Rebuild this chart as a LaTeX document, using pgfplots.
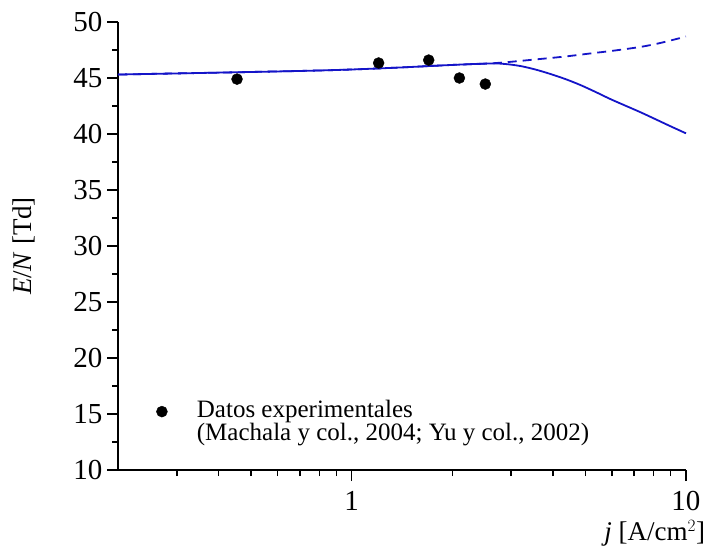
\documentclass[border=0pt]{standalone}
\usepackage{pgfplots}
\pgfplotsset{compat=1.18}
\usepackage{fontspec}
\setmainfont{Liberation Serif}
\definecolor{lineblue}{RGB}{20,20,200}
\begin{document}
\begin{tikzpicture}[x=1pt,y=1pt]
\useasboundingbox (-118,-80) rectangle (592,470);
\begin{axis}[
  at={(0,0)}, anchor=south west,
  scale only axis, width=568pt, height=448pt,
  xmode=log, xmin=0.2, xmax=10, ymin=10, ymax=50,
  axis x line*=bottom, axis y line*=left,
  axis line style={line width=1.6pt, -},
  tick style={line width=1.4pt, black},
  tick align=outside,
  major tick length=11pt, minor tick length=6pt,
  xtick={1,10}, xticklabels={1,10},
  minor xtick={0.3,0.4,0.5,0.6,0.7,0.8,0.9,2,3,4,5,6,7,8,9},
  ytick={10,15,...,50}, minor ytick={12.5,17.5,...,47.5},
  /pgf/number format/assume math mode=true,
  tick label style={font=\fontsize{29}{32}\selectfont},
  xticklabel style={yshift=-7pt},
  yticklabel style={xshift=-1pt},
  log ticks with fixed point,
  clip=false,
  xlabel={\textit{j} [A/cm$^2$]},
  every axis x label/.style={at={(axis description cs:0.945,-0.141)}, anchor=center, font=\fontsize{27}{30}\selectfont},
  ylabel={\textit{E}/\textit{N} [Td]},
  every axis y label/.style={at={(axis description cs:-0.165,0.5)}, anchor=center, rotate=90, font=\fontsize{27}{30}\selectfont},
  legend style={draw=none, fill=none, inner sep=0pt, outer sep=0pt,
    at={(axis description cs:0.065,0.156)}, anchor=north west,
    font=\fontsize{25}{27}\selectfont, row sep=0pt,
    nodes={inner sep=1pt, text height=16pt, text depth=5pt}},
  legend cell align=left,
  legend image code/.code={\path[draw=none,fill=none] (0pt,-1pt) (41pt,1pt); \draw[#1] plot coordinates {(7pt,0pt)};},
]
\addplot[only marks, mark=*, mark size=5.5pt, black] coordinates {
(0.454,44.9) (1.204,46.34) (1.70,46.6) (2.10,45.0) (2.51,44.46)
};
\addlegendentry{Datos experimentales}
\addlegendimage{empty legend}
\addlegendentry{(Machala y col., 2004; Yu y col., 2002)}
\addplot[lineblue, line width=1.8pt, dash pattern=on 9pt off 6pt, smooth] coordinates {
(0.2,45.31) (0.354,45.45) (0.704,45.63) (1,45.76) (1.40,45.94) (1.975,46.16) (2.60,46.3)
(2.88,46.4) (3.67,46.7) (4.353,46.92) (5.17,47.19) (6.14,47.46) (7.29,47.77) (8.36,48.12) (10,48.7)
};
\addplot[lineblue, line width=1.8pt, smooth] coordinates {
(0.2,45.31) (0.354,45.45) (0.704,45.63) (1,45.76) (1.40,45.94) (1.975,46.16) (2.60,46.3)
(2.88,46.25) (3.195,46.07) (3.542,45.76) (3.93,45.36) (4.353,44.91) (4.826,44.38) (5.35,43.77)
(5.93,43.13) (6.577,42.54) (7.29,41.96) (8.08,41.34) (8.96,40.71) (10,40.06)
};
\end{axis}
\end{tikzpicture}
\end{document}
